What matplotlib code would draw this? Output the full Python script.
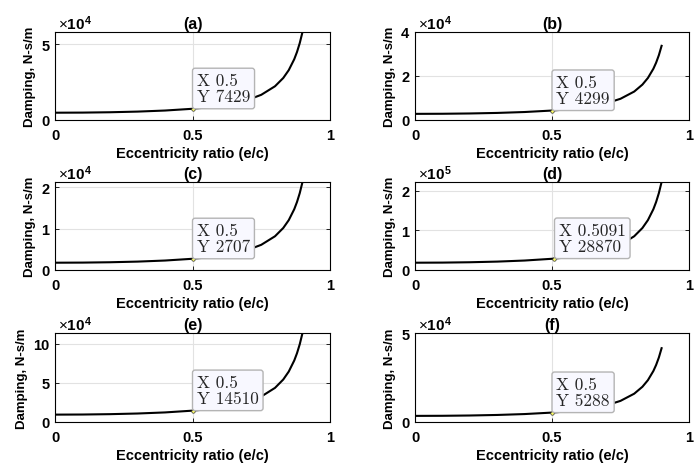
import matplotlib
matplotlib.use("Agg")
import matplotlib.pyplot as plt

plt.rcParams['font.family'] = ['Liberation Sans', 'DejaVu Sans']
plt.rcParams['mathtext.fontset'] = 'custom'
plt.rcParams['mathtext.rm'] = 'Liberation Sans'
plt.rcParams['mathtext.bf'] = 'Liberation Sans:bold'

# eccentricity ratio samples
ecc = [0, 0.1, 0.2, 0.3, 0.4, 0.5, 0.55, 0.6, 0.65, 0.7, 0.75, 0.8,
       0.83, 0.85, 0.87, 0.88, 0.89, 0.9]

# damping, N-s/m
damp_a = [4825, 4898, 5130, 5559, 6267, 7429, 8283, 9424, 10995, 13249,
          16675, 22339, 27808, 33009, 40257, 45032, 50902, 58262]
damp_b = [2792, 2835, 2969, 3217, 3627, 4299, 4793, 5454, 6363, 7667,
          9649, 12927, 16093, 19102, 23296, 26059, 29456, 33715]
damp_c = [1758, 1785, 1869, 2025, 2284, 2707, 3018, 3434, 4006, 4827,
          6076, 8139, 10132, 12027, 14668, 16408, 18547, 21229]
damp_d = [18408, 18688, 19571, 21206, 23910, 28341, 31601, 35953, 41944,
          50543, 63613, 85222, 106085, 125925, 153578, 171794, 194186, 222267]
damp_e = [9425, 9568, 10020, 10857, 12242, 14510, 16179, 18407, 21475,
          25877, 32569, 43632, 54314, 64471, 78630, 87955, 99420, 113796]
damp_f = [3435, 3487, 3652, 3957, 4461, 5288, 5896, 6708, 7826, 9431,
          11869, 15901, 19794, 23496, 28655, 32054, 36232, 41472]

titles = ['(a)', '(b)', '(c)', '(d)', '(e)', '(f)']
series = [damp_a, damp_b, damp_c, damp_d, damp_e, damp_f]
exps = [4, 4, 4, 5, 4, 4]
yticks = [[0, 5], [0, 2, 4], [0, 1, 2], [0, 1, 2], [0, 5, 10], [0, 5]]
ytop = [None, 4, None, None, None, 5]   # scaled upper limit, None = tight

# data tips
tip_x = [0.5, 0.5, 0.5, 0.5091, 0.5, 0.5]
tip_y = [7429, 4299, 2707, 28870, 14510, 5288]

fig = plt.figure(figsize=(6.99, 4.64), dpi=100)
W, H = 699, 464
cols = [(55, 330), (415, 689)]
rows = [(33, 121), (183, 271), (334, 423)]

tip_fs = 12.5
tip_pad = 0.25

for i in range(6):
    r, c = divmod(i, 2)
    x0, x1 = cols[c]
    y0, y1 = rows[r]
    ax = fig.add_axes([x0 / W, 1 - y1 / H, (x1 - x0) / W, (y1 - y0) / H])
    scale = 10 ** exps[i]
    ax.plot(ecc, series[i], color='k', lw=1.5)
    ax.set_xlim(0, 1)
    top = ytop[i] * scale if ytop[i] else max(series[i])
    ax.set_ylim(0, top)
    ax.set_xticks([0, 0.5, 1])
    ax.set_xticklabels(['0', '0.5', '1'])
    ax.set_yticks([t * scale for t in yticks[i]])
    ax.set_yticklabels([str(t) for t in yticks[i]])
    ax.tick_params(direction='in', length=3, width=0.6, top=False, right=True,
                   labelsize=10.5)
    ax.tick_params(axis='x', pad=6)
    ax.tick_params(axis='y', pad=4)
    for lab in ax.get_xticklabels() + ax.get_yticklabels():
        lab.set_fontweight('bold')
    ax.grid(True, color='#e2e2e2', lw=0.8)
    ax.set_axisbelow(True)
    for sp in ax.spines.values():
        sp.set_linewidth(0.8)
    ax.set_title(titles[i], fontsize=11.5, fontweight='bold', pad=3)
    ax.set_xlabel('Eccentricity ratio (e/c)', fontsize=10.5, fontweight='bold',
                  labelpad=2.5)
    ax.set_ylabel('Damping, N-s/m', fontsize=9.5, fontweight='bold',
                  labelpad=4)
    ax.text(0.01, 1.005, r'$\times\mathbf{10^{%d}}$' % exps[i],
            transform=ax.transAxes, fontsize=11, ha='left', va='bottom')

    # data tip marker and label
    ax.plot(tip_x[i], tip_y[i], 'o', ms=2.5, mfc='#ffff66', mec='#333333',
            mew=0.5, zorder=5)
    off = tip_pad * tip_fs
    ax.annotate('X %g\nY %d' % (tip_x[i], tip_y[i]),
                xy=(tip_x[i], tip_y[i]), xytext=(off, off),
                textcoords='offset points', ha='left', va='bottom',
                fontsize=tip_fs, family='cmr10', linespacing=1.1,
                color='#262626',
                bbox=dict(boxstyle='round,pad=%g,rounding_size=0.15' % tip_pad,
                          fc='#f8f8ff', ec='#b4b4b4', lw=1.0), zorder=6)

fig.savefig('out.png', dpi=100)
